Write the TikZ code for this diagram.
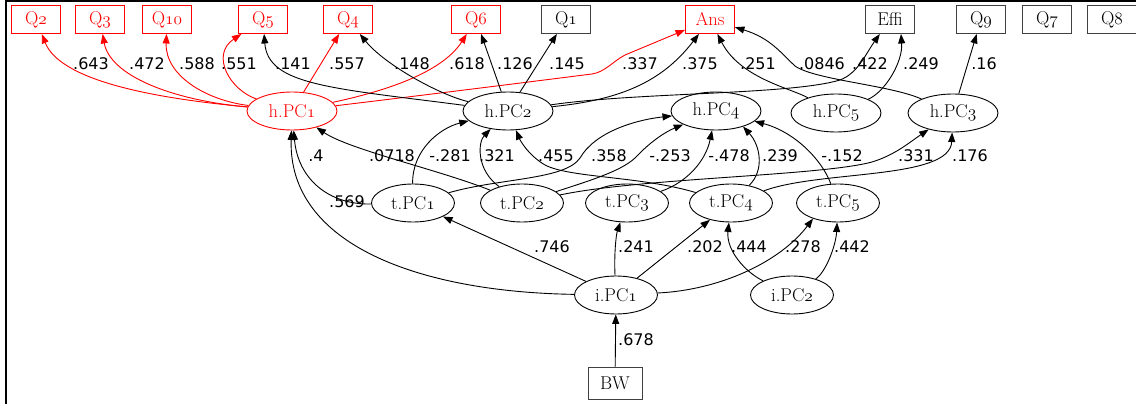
\documentclass[tikz,border=0pt]{standalone}
\usepackage{fontspec}
\newfontfamily\lblfont{DejaVu Sans}
\usetikzlibrary{arrows.meta,shapes.geometric}
\newcommand\osf[1]{\ensuremath{\mathnormal{#1}}}
\newcommand\nodefont{\fontsize{18.5}{21}\selectfont}
\newcommand\edgefont{\lblfont\fontsize{16}{18}\selectfont}
\tikzset{
 box/.style={draw=black!75, line width=0.9pt, rectangle, minimum width=49pt, minimum height=28pt, inner sep=0pt, font=\nodefont},
 redbox/.style={box, draw=red, text=red},
 hnode/.style={draw, line width=0.9pt, ellipse, minimum width=90pt, minimum height=38pt, inner sep=0pt, font=\nodefont},
 tnode/.style={hnode, minimum width=83pt},
 rednode/.style={hnode, draw=red, text=red},
 lbl/.style={font=\edgefont, inner sep=0pt},
 conn/.style={draw, line width=0.9pt, -{Triangle[length=9.5pt,width=7pt]}},
 redconn/.style={conn, red}
}
\begin{document}
\begin{tikzpicture}[x=1pt,y=-1pt]
\useasboundingbox (0,0) rectangle (1136,404);
\draw[line width=2pt] (6,404) -- (6,1.5) -- (1136,1.5);
% top boxes
\node[redbox] (Q2) at (36,19.5) {Q\osf{2}};
\node[redbox] (Q3) at (100,19.5) {Q\osf{3}};
\node[redbox] (Q10) at (167,19.5) {Q\osf{10}};
\node[redbox] (Q5) at (263,19.5) {Q\osf{5}};
\node[redbox] (Q4) at (348,19.5) {Q\osf{4}};
\node[redbox] (Q6) at (476,19.5) {Q\osf{6}};
\node[box] (Q1) at (566,19.5) {Q\osf{1}};
\node[redbox] (Ans) at (710,19.5) {Ans};
\node[box] (Effi) at (890,19.5) {Effi};
\node[box] (Q9) at (981,19.5) {Q\osf{9}};
\node[box] (Q7) at (1047,19.5) {Q\osf{7}};
\node[box] (Q8) at (1112,19.5) {Q\osf{8}};
% h row
\node[rednode] (hPC1) at (292,111) {h.PC\osf{1}};
\node[hnode] (hPC2) at (508,111) {h.PC\osf{2}};
\node[hnode] (hPC4) at (716,111) {h.PC\osf{4}};
\node[hnode] (hPC5) at (836,113) {h.PC\osf{5}};
\node[hnode] (hPC3) at (953,113) {h.PC\osf{3}};
% t row
\node[tnode] (tPC1) at (413,203) {t.PC\osf{1}};
\node[tnode] (tPC2) at (522,203) {t.PC\osf{2}};
\node[tnode] (tPC3) at (627,203) {t.PC\osf{3}};
\node[tnode] (tPC4) at (731,203) {t.PC\osf{4}};
\node[tnode] (tPC5) at (838,203) {t.PC\osf{5}};
% i row
\node[tnode] (iPC1) at (616,295) {i.PC\osf{1}};
\node[tnode] (iPC2) at (792,295) {i.PC\osf{2}};
\node[box, minimum width=54pt, minimum height=32pt] (BW) at (615,383) {BW};
% red edges
\draw[redconn] (hPC1) .. controls (150,98) and (60,80) .. (Q2);
\draw[redconn] (hPC1) .. controls (170,100) and (110,75) .. (Q3);
\draw[redconn] (hPC1) .. controls (205,100) and (165,75) .. (Q10);
\draw[redconn] (hPC1) .. controls (230,90) and (210,55) .. (Q5);
\draw[redconn] (hPC1) -- (Q4);
\draw[redconn] (hPC1) .. controls (400,88) and (445,68) .. (Q6);
\draw[redconn] (hPC1) .. controls (450,92) and (560,78) .. (592,74) .. controls (605,72) and (612,62) .. (625,55) -- (Ans);
% h.PC2 edges
\draw[conn] (hPC2) .. controls (330,88) and (268,85) .. (Q5);
\draw[conn] (hPC2) .. controls (440,95) and (385,65) .. (Q4);
\draw[conn] (hPC2) -- (Q6);
\draw[conn] (hPC2) -- (Q1);
\draw[conn] (hPC2) .. controls (620,100) and (662,82) .. (Ans);
\draw[conn] (hPC2) .. controls (640,92) and (790,95) .. (840,80) .. controls (858,73) and (865,55) .. (Effi);
% h.PC5 / h.PC3 edges
\draw[conn] (hPC5) .. controls (790,88) and (740,78) .. (Ans);
\draw[conn] (hPC3) .. controls (890,85) and (815,80) .. (795,66) .. controls (780,52) and (770,38) .. (Ans);
\draw[conn] (hPC5) .. controls (885,92) and (903,62) .. ([xshift=11pt]Effi.south);
\draw[conn] (hPC3) -- (Q9);
% t -> h
\draw[conn] (tPC1) .. controls (330,205) and (298,180) .. (hPC1);
\draw[conn] (iPC1) .. controls (420,292) and (288,245) .. (hPC1);
\draw[conn] (tPC2) .. controls (440,170) and (350,150) .. (hPC1);
\draw[conn] (tPC1) .. controls (412,150) and (440,128) .. (hPC2);
\draw[conn] (tPC2) .. controls (476,170) and (478,142) .. (hPC2);
\draw[conn] (tPC4) .. controls (640,176) and (570,178) .. (545,165) .. controls (528,155) and (520,140) .. (hPC2);
\draw[conn] (tPC1) .. controls (500,178) and (565,180) .. (580,158) .. controls (595,132) and (635,120) .. (hPC4);
\draw[conn] (tPC2) .. controls (585,182) and (620,172) .. (635,158) .. controls (650,142) and (665,132) .. (hPC4);
\draw[conn] (tPC2) .. controls (640,178) and (820,176) .. (872,162) .. controls (895,155) and (910,142) .. (hPC3);
\draw[conn] (tPC4) .. controls (820,170) and (950,180) .. (hPC3);
\draw[conn] (tPC3) .. controls (688,182) and (706,160) .. (hPC4);
\draw[conn] (tPC4) .. controls (765,170) and (760,145) .. (hPC4.-30);
\draw[conn] (tPC5) .. controls (822,160) and (795,132) .. (hPC4);
% i -> t
\draw[conn] (iPC1) -- (tPC1);
\draw[conn] (iPC1) .. controls (614,255) and (616,235) .. (tPC3);
\draw[conn] (iPC1) -- (tPC4);
\draw[conn] (iPC2) .. controls (745,272) and (726,250) .. (tPC4);
\draw[conn] (iPC1) .. controls (720,290) and (780,262) .. (tPC5.-148);
\draw[conn] (iPC2) .. controls (826,272) and (836,245) .. (tPC5);
\draw[conn] (BW) -- (iPC1);
% labels
\node[lbl] (l1) at (91,64) {.643};
\node[lbl] (l2) at (147,64) {.472};
\node[lbl] (l3) at (197,64) {.588};
\node[lbl] (l4) at (239,64) {.551};
\node[lbl] (l5) at (293,64) {.141};
\node[lbl] (l6) at (347,64) {.557};
\node[lbl] (l7) at (412,64) {.148};
\node[lbl] (l8) at (467,64) {.618};
\node[lbl] (l9) at (515,64) {.126};
\node[lbl] (l10) at (567,64) {.145};
\node[lbl] (l11) at (640,64) {.337};
\node[lbl] (l12) at (700,64) {.375};
\node[lbl] (l13) at (758,64) {.251};
\node[lbl] (l14) at (822,64) {.0846};
\node[lbl] (l15) at (870,64) {.422};
\node[lbl] (l16) at (921,64) {.249};
\node[lbl] (l17) at (984,64) {.16};
\node[lbl] (m1) at (316,156) {.4};
\node[lbl] (m2) at (392,156) {.0718};
\node[lbl] (m3) at (450,156) {-.281};
\node[lbl] (m4) at (497,156) {.321};
\node[lbl] (m5) at (556,156) {.455};
\node[lbl] (m6) at (609,156) {.358};
\node[lbl] (m7) at (670,156) {-.253};
\node[lbl] (m8) at (729,156) {-.478};
\node[lbl] (m9) at (780,156) {.239};
\node[lbl] (m10) at (842,156) {-.152};
\node[lbl] (m11) at (916,156) {.331};
\node[lbl] (m12) at (970,156) {.176};
\node[lbl] (m13) at (347,202) {.569};
\node[lbl] (n1) at (552,247) {.746};
\node[lbl] (n2) at (636,247) {.241};
\node[lbl] (n3) at (705,247) {.202};
\node[lbl] (n4) at (749,247) {.444};
\node[lbl] (n5) at (803,247) {.278};
\node[lbl] (n6) at (852,247) {.442};
\node[lbl] (n7) at (636,340) {.678};
\end{tikzpicture}
\end{document}
